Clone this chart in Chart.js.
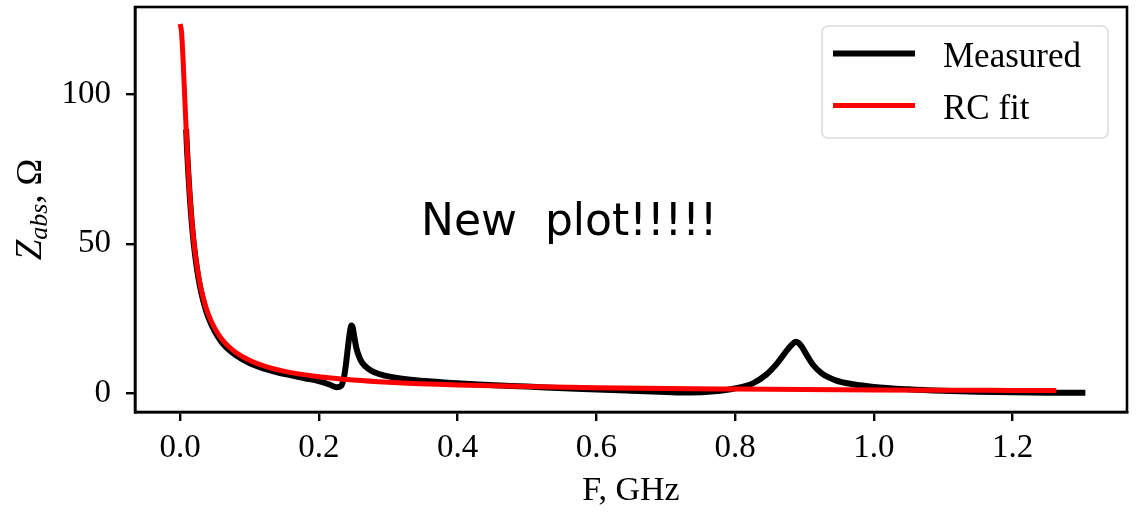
<!DOCTYPE html>
<html><head><meta charset="utf-8">
<script src="https://cdn.jsdelivr.net/npm/chart.js@4.4.0/dist/chart.umd.min.js"></script>
<style>html,body{margin:0;padding:0;background:#fff;}#wrap{width:1141px;height:512px;position:relative}</style>
</head><body><div id="wrap"><canvas id="c" width="1141" height="512"></canvas></div>
<script>
const seriesNames = ['Measured', 'RC fit'];
const measuredF = [0.0087,0.010,0.012,0.014,0.016,0.019,0.022,0.026,0.030,0.035,0.040,0.050,0.060,0.070,0.080,0.100,0.120,0.140,0.160,0.180,0.200,0.215,0.226,0.232,0.236,0.239,0.242,0.245,0.247,0.249,0.251,0.254,0.258,0.263,0.270,0.280,0.295,0.315,0.340,0.380,0.430,0.500,0.580,0.650,0.700,0.735,0.770,0.800,0.825,0.845,0.860,0.872,0.880,0.885,0.888,0.891,0.896,0.903,0.912,0.925,0.945,0.970,1.000,1.050,1.100,1.150,1.200,1.250,1.305];
const measuredZ = [88.3,81.5,73.0,65.6,59.3,51.6,45.5,39.1,34.2,29.5,25.8,20.7,17.1,14.6,12.8,10.1,8.3,7.0,6.0,5.0,4.0,2.9,2.0,2.4,5.0,9.5,15.5,20.8,22.6,21.8,19.0,15.2,12.2,10.0,8.4,7.0,5.9,5.0,4.3,3.6,2.9,2.2,1.4,0.8,0.4,0.2,0.6,1.6,3.2,6.2,9.8,13.5,15.8,16.9,17.2,16.9,15.6,12.9,9.6,6.6,4.3,3.0,2.1,1.3,0.8,0.5,0.3,0.15,0.1];
const fitF = [0.000,0.002,0.004,0.006,0.008,0.010,0.013,0.016,0.020,0.025,0.030,0.035,0.040,0.050,0.060,0.070,0.080,0.100,0.130,0.160,0.200,0.250,0.300,0.400,0.500,0.600,0.700,0.800,0.900,1.000,1.100,1.200,1.263];
const fitZ = [123.5,121.0,113.1,102.7,92.1,82.3,69.9,60.1,50.3,41.5,35.2,30.5,26.8,21.7,18.1,15.6,13.7,11.0,8.45,6.87,5.5,4.4,3.67,2.75,2.2,1.83,1.57,1.38,1.22,1.1,1.0,0.92,0.87];
const xTickValues = [0, 0.2, 0.4, 0.6, 0.8, 1.0, 1.2];
const xTickLabels = ['0.0', '0.2', '0.4', '0.6', '0.8', '1.0', '1.2'];
const yTickValues = [0, 50, 100];
const yTickLabels = ['0', '50', '100'];
const xAxisLabel = 'F, GHz';
const yAxisLabelParts = ['Z', 'abs', ', Ω'];
const annotationText = 'New  plot!!!!!';

const SERIF = '"Liberation Serif", "DejaVu Serif", serif';

const overlay = {
  id: 'overlay',
  afterDatasetsDraw(chart) {
    const ctx = chart.ctx, a = chart.chartArea;
    ctx.save();
    ctx.strokeStyle = '#000'; ctx.lineWidth = 2.6;
    ctx.strokeRect(a.left, a.top, a.right - a.left, a.bottom - a.top);
    ctx.restore();
  },
  afterDraw(chart) {
    const ctx = chart.ctx, a = chart.chartArea;
    ctx.save();
    // legend
    const lx = 822, ly = 26, lw = 286, lh = 112, r = 6;
    ctx.beginPath();
    ctx.roundRect(lx, ly, lw, lh, r);
    ctx.fillStyle = 'rgba(255,255,255,0.85)'; ctx.fill();
    ctx.strokeStyle = '#dcdcdc'; ctx.lineWidth = 1.5; ctx.stroke();
    const ds = chart.data.datasets;
    const rows = [53.5, 105.5];
    ds.forEach((d, i) => {
      ctx.beginPath();
      ctx.strokeStyle = d.borderColor; ctx.lineWidth = d.borderWidth;
      ctx.lineCap = 'butt';
      ctx.moveTo(833, rows[i]); ctx.lineTo(915, rows[i]); ctx.stroke();
      ctx.fillStyle = '#000';
      ctx.font = '35px ' + SERIF;
      ctx.textBaseline = 'alphabetic'; ctx.textAlign = 'left';
      ctx.fillText(d.label, 943, rows[i] + 13);
    });
    // x axis title
    ctx.font = '34px ' + SERIF;
    ctx.textAlign = 'center'; ctx.textBaseline = 'alphabetic';
    ctx.fillText(xAxisLabel, (a.left + a.right) / 2, 500);
    // y axis title (rotated, with subscript)
    ctx.save();
    ctx.translate(41, (a.top + a.bottom) / 2);
    ctx.rotate(-Math.PI / 2);
    const f1 = 'italic 37px ' + SERIF, f2 = 'italic 26px ' + SERIF, f3 = '36px ' + SERIF;
    ctx.font = f1; const w1 = ctx.measureText(yAxisLabelParts[0]).width;
    ctx.font = f2; const w2 = ctx.measureText(yAxisLabelParts[1]).width;
    ctx.font = f3; const w3 = ctx.measureText(yAxisLabelParts[2]).width;
    let x0 = -(w1 + w2 + w3) / 2;
    ctx.textAlign = 'left';
    ctx.font = f1; ctx.fillText(yAxisLabelParts[0], x0, 0); x0 += w1;
    ctx.font = f2; ctx.fillText(yAxisLabelParts[1], x0, 6); x0 += w2;
    ctx.font = f3; ctx.fillText(yAxisLabelParts[2], x0, 0);
    ctx.restore();
    // annotation
    ctx.font = '44px "DejaVu Sans", sans-serif';
    ctx.textAlign = 'left'; ctx.textBaseline = 'alphabetic';
    ctx.fillStyle = '#000';
    ctx.fillText(annotationText, 421, 235);
    ctx.restore();
  }
};

new Chart(document.getElementById('c'), {
  type: 'line',
  data: {
    datasets: [
      { label: seriesNames[0], data: measuredF.map((f, i) => ({x: f, y: measuredZ[i]})),
        borderColor: '#000000', backgroundColor: '#000000', borderWidth: 6, pointRadius: 0,
        cubicInterpolationMode: 'monotone', borderJoinStyle: 'round', borderCapStyle: 'butt', order: 1, fill: false },
      { label: seriesNames[1], data: fitF.map((f, i) => ({x: f, y: fitZ[i]})),
        borderColor: '#ff0000', backgroundColor: '#ff0000', borderWidth: 5, pointRadius: 0,
        cubicInterpolationMode: 'monotone', borderJoinStyle: 'round', borderCapStyle: 'butt', order: 0, fill: false }
    ]
  },
  options: {
    responsive: false, animation: false, devicePixelRatio: 1,
    layout: { padding: { left: 0, right: 14, top: 7, bottom: 0 } },
    plugins: { legend: { display: false }, tooltip: { enabled: false } },
    scales: {
      x: {
        type: 'linear', min: -0.065, max: 1.365,
        afterBuildTicks: s => { s.ticks = xTickValues.map(v => ({ value: v })); },
        afterFit: s => { s.height = 100; s.paddingLeft = 0; s.paddingRight = 0; s.paddingTop = 0; s.paddingBottom = 0; },
        grid: { drawOnChartArea: false, drawTicks: true, tickLength: 9, color: '#000', lineWidth: 2.4 },
        border: { display: true, color: '#000', width: 2.6 },
        ticks: { autoSkip: false, maxRotation: 0, color: '#000', padding: 8,
          font: { family: SERIF, size: 33 },
          callback: v => xTickLabels[xTickValues.indexOf(v)] }
      },
      y: {
        type: 'linear', min: -6.3, max: 129.2,
        afterBuildTicks: s => { s.ticks = yTickValues.map(v => ({ value: v })); },
        afterFit: s => { s.width = 135; s.paddingLeft = 0; s.paddingRight = 0; s.paddingTop = 0; s.paddingBottom = 0; },
        grid: { drawOnChartArea: false, drawTicks: true, tickLength: 9, color: '#000', lineWidth: 2.4 },
        border: { display: true, color: '#000', width: 2.6 },
        ticks: { autoSkip: false, color: '#000', padding: 15,
          font: { family: SERIF, size: 33 },
          callback: v => yTickLabels[yTickValues.indexOf(v)] }
      }
    }
  },
  plugins: [overlay]
});
</script></body></html>
